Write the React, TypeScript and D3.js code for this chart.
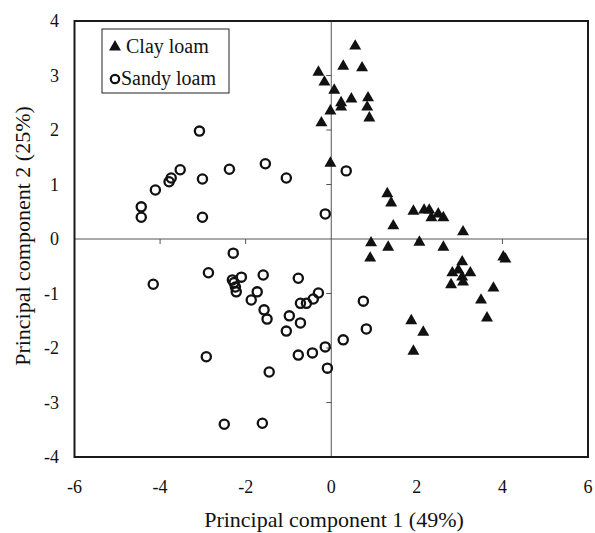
import React from "react";
import * as d3 from "d3";

const clayX = [0.56, 0.28, 0.72, -0.30, -0.16, 0.07, 0.47, 0.23, 0.23, 0.86, 0.84, -0.02, 0.89, -0.23, -0.02, 1.31, 1.40, 1.92, 2.17, 2.29, 2.34, 2.50, 2.62, 1.45, 3.08, 0.93, 1.33, 2.06, 2.62, 0.91, 3.06, 4.02, 4.07, 2.83, 2.97, 3.06, 3.25, 2.80, 3.08, 3.79, 3.50, 3.64, 1.87, 2.15, 1.92];
const clayY = [3.54, 3.17, 3.14, 3.06, 2.88, 2.73, 2.57, 2.50, 2.42, 2.59, 2.42, 2.35, 2.22, 2.13, 1.39, 0.83, 0.66, 0.51, 0.53, 0.53, 0.39, 0.46, 0.39, 0.24, 0.13, -0.07, -0.15, -0.06, -0.15, -0.35, -0.42, -0.33, -0.37, -0.62, -0.57, -0.70, -0.62, -0.84, -0.79, -0.90, -1.12, -1.45, -1.50, -1.71, -2.06];

const sandyX = [-3.08, -4.44, -4.44, -4.11, -3.79, -3.74, -3.53, -3.01, -3.01, -2.38, -1.54, -1.05, -0.14, 0.35, -4.16, -2.29, -2.87, -2.31, -2.27, -2.24, -2.22, -2.10, -1.59, -1.73, -1.87, -1.57, -1.50, -0.77, -0.98, -0.72, -1.05, -0.72, -0.58, -0.42, -0.30, 0.75, 0.82, 0.28, -0.14, -0.44, -0.77, -0.09, -1.45, -2.92, -2.50, -1.61];
const sandyY = [1.98, 0.59, 0.40, 0.90, 1.05, 1.12, 1.27, 1.10, 0.40, 1.28, 1.38, 1.12, 0.46, 1.25, -0.83, -0.26, -0.62, -0.75, -0.80, -0.88, -0.97, -0.70, -0.66, -0.97, -1.12, -1.30, -1.47, -0.72, -1.41, -1.54, -1.69, -1.18, -1.18, -1.10, -0.99, -1.14, -1.65, -1.85, -1.98, -2.09, -2.13, -2.37, -2.44, -2.16, -3.40, -3.38];

const xTicks = [-6, -4, -2, 0, 2, 4, 6];
const yTicks = [-4, -3, -2, -1, 0, 1, 2, 3, 4];
const seriesNames = ["Clay loam", "Sandy loam"];
const xTitle = "Principal component 1 (49%)";
const yTitle = "Principal component 2 (25%)";

const W = 595;
const H = 533;
const L = 74.5, R = 588, T = 21, B = 457;
const fontStyle = { fontFamily: "Liberation Serif, Times New Roman, DejaVu Serif, serif" };

export default function App() {
  const x = d3.scaleLinear().domain([-6, 6]).range([L, R]);
  const y = d3.scaleLinear().domain([-4, 4]).range([B, T]);
  const tri = d3.symbol(d3.symbolTriangle, 62)() as string;

  const clay = clayX.map((v, i) => ({ x: v, y: clayY[i] }));
  const sandy = sandyX.map((v, i) => ({ x: v, y: sandyY[i] }));

  return (
    <svg width={W} height={H} style={{ position: "absolute", left: 0, top: 0 }}>
      <rect x={0} y={0} width={W} height={H} fill="#fff" />
      <line x1={x(0)} x2={x(0)} y1={T} y2={B} stroke="#555" strokeWidth={1} />
      <line x1={L} x2={R} y1={y(0)} y2={y(0)} stroke="#555" strokeWidth={1} />
      {xTicks.filter((t) => t !== 0 && Math.abs(t) !== 6).map((t) => (
        <line key={"xt" + t} x1={x(t)} x2={x(t)} y1={y(0)} y2={y(0) + 5} stroke="#555" strokeWidth={1} />
      ))}
      {yTicks.filter((t) => t !== 0 && Math.abs(t) !== 4).map((t) => (
        <line key={"yt" + t} x1={x(0) - 5} x2={x(0)} y1={y(t)} y2={y(t)} stroke="#555" strokeWidth={1} />
      ))}
      <rect x={L} y={T} width={R - L} height={B - T} fill="none" stroke="#1a1a1a" strokeWidth={2} />
      <g style={fontStyle} fill="#111">
        {xTicks.map((t) => (
          <text key={"xl" + t} x={x(t)} y={493} textAnchor="middle" fontSize={18}>
            {t}
          </text>
        ))}
        {yTicks.map((t) => (
          <text key={"yl" + t} x={59} y={y(t) + 6} textAnchor="end" fontSize={18}>
            {t}
          </text>
        ))}
        <text x={334} y={527} textAnchor="middle" fontSize={22}>
          {xTitle}
        </text>
        <text transform={`translate(30,236) rotate(-90)`} textAnchor="middle" fontSize={22}>
          {yTitle}
        </text>
      </g>
      {sandy.map((d, i) => (
        <circle key={"s" + i} cx={x(d.x)} cy={y(d.y)} r={4.6} fill="none" stroke="#111" strokeWidth={2.3} />
      ))}
      {clay.map((d, i) => (
        <path key={"c" + i} d={tri} transform={`translate(${x(d.x)},${y(d.y)})`} fill="#111" />
      ))}
      <rect x={102} y={29} width={127} height={64} fill="#fff" stroke="#222" strokeWidth={1} />
      <path d={tri} transform="translate(115,47)" fill="#111" />
      <circle cx={115} cy={79} r={4.2} fill="none" stroke="#111" strokeWidth={2.2} />
      <g style={fontStyle} fill="#111">
        <text x={126} y={53} fontSize={20}>{seriesNames[0]}</text>
        <text x={121} y={85} fontSize={20}>{seriesNames[1]}</text>
      </g>
    </svg>
  );
}
